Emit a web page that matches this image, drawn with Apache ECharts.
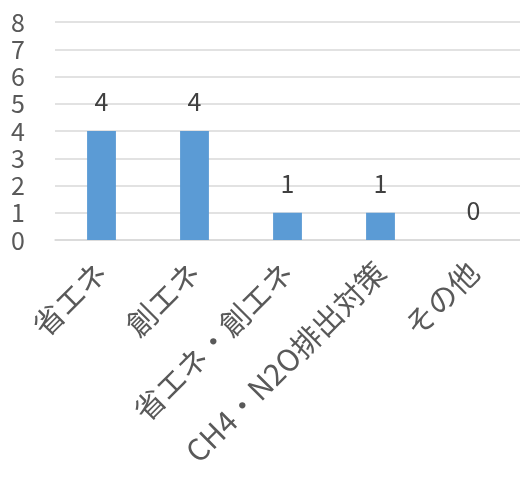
<!DOCTYPE html>
<html>
<head>
<meta charset="utf-8">
<script src="https://cdn.jsdelivr.net/npm/echarts@6/dist/echarts.min.js"></script>
<style>
  html, body { margin: 0; padding: 0; background: #fff; }
  #chart { width: 520px; height: 477px; }
</style>
</head>
<body>
<div id="chart"></div>
<script>
// Categories of measures and number of cases per category
const categories = ['省エネ', '創エネ', '省エネ・創エネ', 'CH4・N2O排出対策', 'その他'];
const counts = [4, 4, 1, 1, 0];
const yTicks = { min: 0, max: 8, interval: 1 };

const font = '"Noto Sans CJK JP", "Noto Sans", sans-serif';
const textColor = '#595959';

const chart = echarts.init(document.getElementById('chart'));
chart.setOption({
  animation: false,
  grid: { left: 55, right: -3, top: 22, bottom: 237 },
  xAxis: {
    type: 'category',
    data: categories,
    axisLine: { show: true, lineStyle: { color: '#D9D9D9', width: 1.5 } },
    axisTick: { show: false },
    axisLabel: {
      rotate: 45,
      interval: 0,
      margin: 27,
      fontSize: 30,
      color: textColor,
      fontFamily: font
    }
  },
  yAxis: {
    type: 'value',
    min: yTicks.min,
    max: yTicks.max,
    interval: yTicks.interval,
    axisLine: { show: false },
    axisTick: { show: false },
    splitLine: { lineStyle: { color: '#D9D9D9', width: 1.5 } },
    axisLabel: {
      margin: 30,
      fontSize: 25,
      color: textColor,
      fontFamily: font
    }
  },
  series: [{
    type: 'bar',
    data: counts,
    barWidth: '31%',
    itemStyle: { color: '#5B9BD5' },
    label: {
      show: true,
      position: 'top',
      distance: 17,
      fontSize: 25,
      color: '#404040',
      fontFamily: font
    }
  }]
});
</script>
</body>
</html>
